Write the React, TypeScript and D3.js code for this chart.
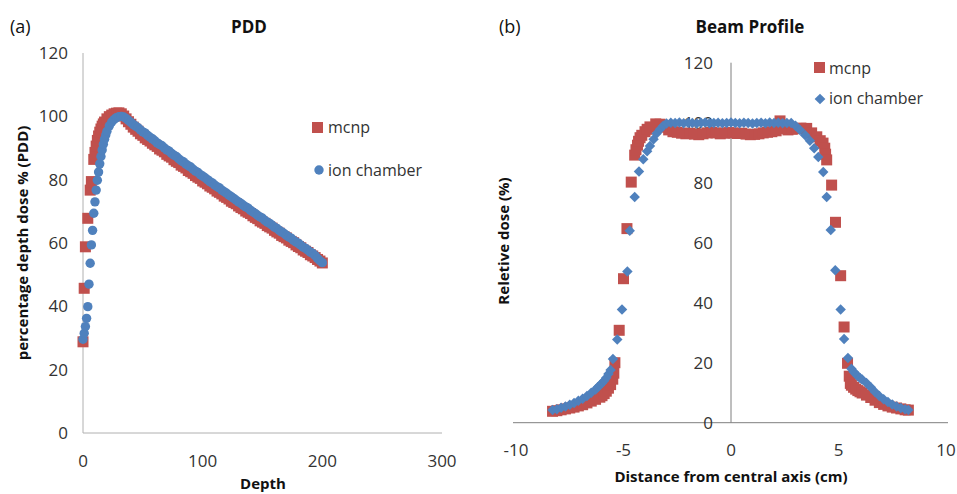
import React from "react";
import * as d3 from "d3";

// ---- PDD panel (a) ----
const pddMcnpDepth = [
  0, 1, 2, 4, 6, 7, 9, 10, 11, 12, 13, 14, 15, 16, 17, 18, 20, 22, 24, 26, 28, 30,
  32, 34, 36, 38, 40, 42, 44, 46, 48, 50, 52, 54, 56, 58, 60, 62, 64, 66, 68, 70,
  72, 74, 76, 78, 80, 82, 84, 86, 88, 90, 92, 94, 96, 98, 100, 102, 104, 106, 108,
  110, 112, 114, 116, 118, 120, 122, 124, 126, 128, 130, 132, 134, 136, 138, 140,
  142, 144, 146, 148, 150, 152, 154, 156, 158, 160, 162, 164, 166, 168, 170, 172,
  174, 176, 178, 180, 182, 184, 186, 188, 190, 192, 194, 196, 198, 200,
];
const pddMcnp = [
  28.8, 45.7, 58.8, 67.8, 76.7, 79.4, 86.4, 88.6, 90.6, 92.4, 93.8, 95.0, 96.0, 96.9,
  97.6, 98.2, 99.2, 99.9, 100.4, 100.8, 101.0, 101.1, 100.8, 100.1, 99.2, 98.3, 97.5,
  96.6, 95.9, 95.3, 94.5, 94.0, 93.2, 92.7, 92.2, 91.5, 91.0, 90.5, 89.7, 89.3, 88.8,
  88.0, 87.5, 87.1, 86.3, 85.8, 85.4, 84.6, 84.2, 83.7, 82.9, 82.5, 82.0, 81.3, 80.8,
  80.4, 79.6, 79.2, 78.7, 78.0, 77.6, 77.1, 76.4, 76.0, 75.5, 74.8, 74.4, 73.9, 73.2,
  72.8, 72.4, 71.7, 71.2, 70.8, 70.1, 69.7, 69.3, 68.6, 68.1, 67.7, 67.0, 66.6, 66.2,
  65.5, 65.1, 64.7, 64.0, 63.5, 63.1, 62.4, 62.0, 61.6, 60.9, 60.5, 60.1, 59.4, 58.9,
  58.5, 57.8, 57.4, 57.0, 56.3, 55.9, 55.4, 54.8, 54.3, 53.7,
];

const pddIonDepth = [
  0, 1, 2, 3, 4, 5, 6, 7, 8, 9, 10, 11, 12, 13, 14, 15, 16, 17, 18, 19, 20, 22, 24,
  26, 28, 30, 32, 34, 36, 38, 40, 42, 44, 46, 48, 50, 52, 54, 56, 58, 60, 62, 64, 66,
  68, 70, 72, 74, 76, 78, 80, 82, 84, 86, 88, 90, 92, 94, 96, 98, 100, 102, 104, 106,
  108, 110, 112, 114, 116, 118, 120, 122, 124, 126, 128, 130, 132, 134, 136, 138, 140,
  142, 144, 146, 148, 150, 152, 154, 156, 158, 160, 162, 164, 166, 168, 170, 172, 174,
  176, 178, 180, 182, 184, 186, 188, 190, 192, 194, 196, 198, 200,
];
const pddIon = [
  29.6, 31.5, 33.6, 36.2, 39.9, 47.0, 53.6, 59.4, 64.0, 69.4, 73.0, 76.7, 79.8, 82.4,
  85.0, 87.3, 89.4, 91.2, 92.8, 94.1, 95.3, 97.0, 98.2, 99.0, 99.6, 99.9, 100.0, 99.8,
  99.3, 98.7, 98.1, 97.4, 96.9, 96.4, 95.7, 95.1, 94.7, 94.0, 93.4, 92.9, 92.3, 91.6,
  91.1, 90.7, 90.0, 89.4, 89.0, 88.3, 87.7, 87.3, 86.6, 86.0, 85.6, 84.9, 84.4, 84.0,
  83.3, 82.7, 82.3, 81.6, 81.1, 80.6, 80.0, 79.4, 79.0, 78.3, 77.8, 77.4, 76.7, 76.2,
  75.7, 75.1, 74.6, 74.1, 73.5, 73.0, 72.5, 71.9, 71.4, 71.0, 70.3, 69.8, 69.3, 68.7,
  68.2, 67.8, 67.1, 66.6, 66.2, 65.6, 65.0, 64.6, 64.0, 63.5, 63.0, 62.4, 61.9, 61.5,
  60.8, 60.3, 59.9, 59.3, 58.7, 58.3, 57.7, 57.1, 56.7, 56.0, 55.1, 54.4, 53.8,
];

// ---- Beam profile panel (b) ----
const profMcnpX = [
  -8.3, -8.1, -7.9, -7.7, -7.5, -7.3, -7.1, -6.9, -6.7, -6.5, -6.3, -6.1, -6.0, -5.9,
  -5.8, -5.7, -5.6, -5.5, -5.45, -5.4, -5.2, -5.0, -4.84, -4.64, -4.48, -4.42, -4.35,
  -4.3, -4.23, -4.15, -4.0, -3.9, -3.77, -3.5, -3.3, -3.1, -2.9, -2.7, -2.5, -2.3, -2.1,
  -1.9, -1.7, -1.5, -1.3, -1.1, -0.9, -0.7, -0.5, -0.3, -0.1, 0.1, 0.3, 0.5, 0.7, 0.9,
  1.1, 1.3, 1.5, 1.7, 1.9, 2.1, 2.28, 2.45, 2.65, 2.85, 3.05, 3.25, 3.52, 3.75, 3.99,
  4.15, 4.28, 4.36, 4.4, 4.45, 4.68, 4.86, 5.1, 5.26, 5.42, 5.5, 5.55, 5.6, 5.7, 5.8,
  5.9, 6.0, 6.1, 6.3, 6.5, 6.7, 6.9, 7.1, 7.3, 7.5, 7.7, 7.9, 8.1, 8.25,
];
const profMcnp = [
  3.8, 4.0, 4.3, 4.6, 4.9, 5.2, 5.6, 6.0, 6.6, 7.2, 7.8, 8.5, 9.0, 9.7, 10.5, 11.5,
  12.7, 14.5, 16.5, 20.0, 30.8, 48.0, 64.7, 80.2, 89.2, 91.0, 92.5, 93.8, 95.0, 95.8,
  97.0, 97.8, 98.6, 99.6, 99.5, 98.5, 97.6, 97.0, 96.8, 96.5, 96.3, 96.5, 96.2, 96.0,
  96.3, 96.6, 96.8, 96.6, 96.3, 96.5, 96.7, 96.6, 96.4, 96.5, 96.2, 96.0, 96.1, 96.3,
  96.6, 96.8, 97.0, 97.3, 100.6, 98.0, 97.6, 97.8, 98.0, 98.2, 98.1, 96.6, 95.3, 94.0,
  93.2, 91.5, 89.5, 87.6, 79.2, 66.8, 49.0, 31.9, 19.8, 15.5, 13.1, 12.5, 11.8, 11.2,
  10.7, 10.3, 9.9, 9.2, 8.4, 7.5, 6.7, 6.1, 5.6, 5.2, 4.9, 4.6, 4.3, 4.2,
];

const profIonX = [
  -8.3, -8.1, -7.9, -7.7, -7.5, -7.3, -7.1, -6.9, -6.7, -6.5, -6.3, -6.2, -6.1, -6.0,
  -5.9, -5.8, -5.7, -5.6, -5.49, -5.29, -5.07, -4.82, -4.71, -4.48, -4.28, -4.08, -3.9,
  -3.77, -3.6, -3.46, -3.3, -3.15, -3.0, -2.8, -2.6, -2.4, -2.2, -2.0, -1.8, -1.6, -1.4,
  -1.2, -1.0, -0.8, -0.6, -0.4, -0.2, 0.0, 0.2, 0.4, 0.6, 0.8, 1.0, 1.2, 1.4, 1.6, 1.8,
  2.0, 2.2, 2.4, 2.6, 2.8, 3.0, 3.21, 3.45, 3.67, 3.87, 4.06, 4.29, 4.45, 4.64, 4.85,
  5.1, 5.26, 5.44, 5.6, 5.7, 5.8, 5.9, 6.0, 6.1, 6.3, 6.5, 6.7, 6.9, 7.1, 7.3, 7.5,
  7.7, 7.9, 8.1, 8.25,
];
const profIon = [
  4.2, 4.5, 5.0, 5.4, 6.0, 6.6, 7.3, 8.0, 8.9, 10.0, 11.1, 11.8, 12.5, 13.2, 14.0,
  15.0, 16.2, 17.6, 21.2, 27.7, 37.7, 50.4, 64.0, 75.2, 83.7, 87.8, 90.5, 92.2, 94.5,
  96.4, 97.8, 99.0, 99.7, 100.0, 99.9, 100.1, 99.8, 100.0, 99.9, 99.7, 100.0, 100.1,
  99.8, 99.9, 100.0, 99.8, 99.9, 100.1, 99.9, 99.8, 100.0, 99.9, 99.7, 99.9, 100.0,
  99.8, 100.1, 99.9, 100.0, 99.8, 99.9, 99.9, 99.0, 97.6, 95.8, 94.0, 91.5, 88.6,
  83.6, 75.2, 64.2, 50.8, 37.7, 27.9, 21.6, 18.0, 17.0, 16.2, 15.5, 14.9, 14.4, 13.2,
  11.8, 10.2, 8.9, 7.8, 6.9, 6.1, 5.4, 4.9, 4.5, 4.2,
];

const yTicks = [0, 20, 40, 60, 80, 100, 120];
const pddXTicks = [0, 100, 200, 300];
const profXTicks = [-10, -5, 0, 5, 10];

const RED = "#C0504D";
const BLUE = "#4F81BD";
const FONT = "'Open Sans', 'DejaVu Sans', sans-serif";
const TICK = "#333";

export default function App() {
  // panel (a) scales
  const xa = d3.scaleLinear().domain([0, 300]).range([83, 442]);
  const ya = d3.scaleLinear().domain([0, 120]).range([433, 53]);
  // panel (b) scales
  const xb = d3.scaleLinear().domain([-10, 10]).range([516, 946]);
  const yb = d3.scaleLinear().domain([0, 120]).range([422.7, 62.7]);

  const sq = 11;
  const dia = 7.4;

  return (
    <svg
      width={957}
      height={494}
      style={{ position: "absolute", left: 0, top: 0, background: "#fff" }}
      fontFamily={FONT}
    >
      <rect width={957} height={494} fill="#fff" />

      {/* ---------- (a) PDD ---------- */}
      <text x={10} y={33} fontSize={18} fill="#111">(a)</text>
      <text x={249} y={33} fontSize={17} fontWeight="bold" textAnchor="middle" fill="#111">
        PDD
      </text>
      <line x1={xa(0)} x2={xa(0)} y1={ya(120)} y2={ya(0)} stroke="#b0b0b0" strokeWidth={1} />
      <line x1={xa(0)} x2={xa(300)} y1={ya(0)} y2={ya(0)} stroke="#b0b0b0" strokeWidth={1} />
      {yTicks.map((t) => (
        <text key={"ya" + t} x={68} y={ya(t) + 6} fontSize={17} textAnchor="end" fill={TICK}>
          {t}
        </text>
      ))}
      {pddXTicks.map((t) => (
        <text key={"xa" + t} x={xa(t)} y={467} fontSize={17} textAnchor="middle" fill={TICK}>
          {t}
        </text>
      ))}
      <text x={263} y={489} fontSize={15} fontWeight="bold" textAnchor="middle" fill="#111">
        Depth
      </text>
      <text
        transform={`translate(28,${ya(60)}) rotate(-90)`}
        fontSize={15}
        fontWeight="bold"
        textAnchor="middle"
        fill="#111"
      >
        percentage depth dose % (PDD)
      </text>
      <g>
        {pddMcnpDepth.map((d, i) => (
          <rect
            key={"pm" + i}
            x={xa(d) - sq / 2}
            y={ya(pddMcnp[i]) - sq / 2}
            width={sq}
            height={sq}
            fill={RED}
          />
        ))}
      </g>
      <g>
        {pddIonDepth.map((d, i) => (
          <circle key={"pi" + i} cx={xa(d)} cy={ya(pddIon[i])} r={4.7} fill={BLUE} />
        ))}
      </g>
      {/* legend a */}
      <rect x={312} y={122} width={11} height={11} fill={RED} />
      <text x={328} y={133} fontSize={16} fill={TICK}>mcnp</text>
      <circle cx={319} cy={170} r={4.7} fill={BLUE} />
      <text x={328} y={176} fontSize={16} fill={TICK}>ion chamber</text>

      {/* ---------- (b) Beam Profile ---------- */}
      <text x={499} y={33} fontSize={18} fill="#111">(b)</text>
      <text x={750} y={33} fontSize={17} fontWeight="bold" textAnchor="middle" fill="#111">
        Beam Profile
      </text>
      <line x1={xb(0)} x2={xb(0)} y1={yb(120)} y2={yb(0)} stroke="#7f7f7f" strokeWidth={1} />
      <line x1={513} x2={948} y1={yb(0)} y2={yb(0)} stroke="#7f7f7f" strokeWidth={1} />
      {yTicks.map((t) => (
        <text key={"yb" + t} x={713} y={yb(t) + 6} fontSize={17} textAnchor="end" fill={TICK}>
          {t}
        </text>
      ))}
      {profXTicks.map((t) => (
        <text key={"xb" + t} x={xb(t)} y={456} fontSize={17} textAnchor="middle" fill={TICK}>
          {t}
        </text>
      ))}
      <text x={731} y={482} fontSize={15} fontWeight="bold" textAnchor="middle" fill="#111">
        Distance from central axis (cm)
      </text>
      <text
        transform={`translate(509,241) rotate(-90)`}
        fontSize={15}
        fontWeight="bold"
        textAnchor="middle"
        fill="#111"
      >
        Reletive dose (%)
      </text>
      <g>
        {profMcnpX.map((d, i) => (
          <rect
            key={"bm" + i}
            x={xb(d) - sq / 2}
            y={yb(profMcnp[i]) - sq / 2}
            width={sq}
            height={sq}
            fill={RED}
          />
        ))}
      </g>
      <g>
        {profIonX.map((d, i) => (
          <rect
            key={"bi" + i}
            x={-dia / 2}
            y={-dia / 2}
            width={dia}
            height={dia}
            fill={BLUE}
            transform={`translate(${xb(d)},${yb(profIon[i])}) rotate(45)`}
          />
        ))}
      </g>
      {/* legend b */}
      <rect x={814} y={62} width={11} height={11} fill={RED} />
      <text x={829} y={74} fontSize={16} fill={TICK}>mcnp</text>
      <rect
        x={-3.8}
        y={-3.8}
        width={7.6}
        height={7.6}
        fill={BLUE}
        transform="translate(820,99) rotate(45)"
      />
      <text x={829} y={104} fontSize={16} fill={TICK}>ion chamber</text>
    </svg>
  );
}
